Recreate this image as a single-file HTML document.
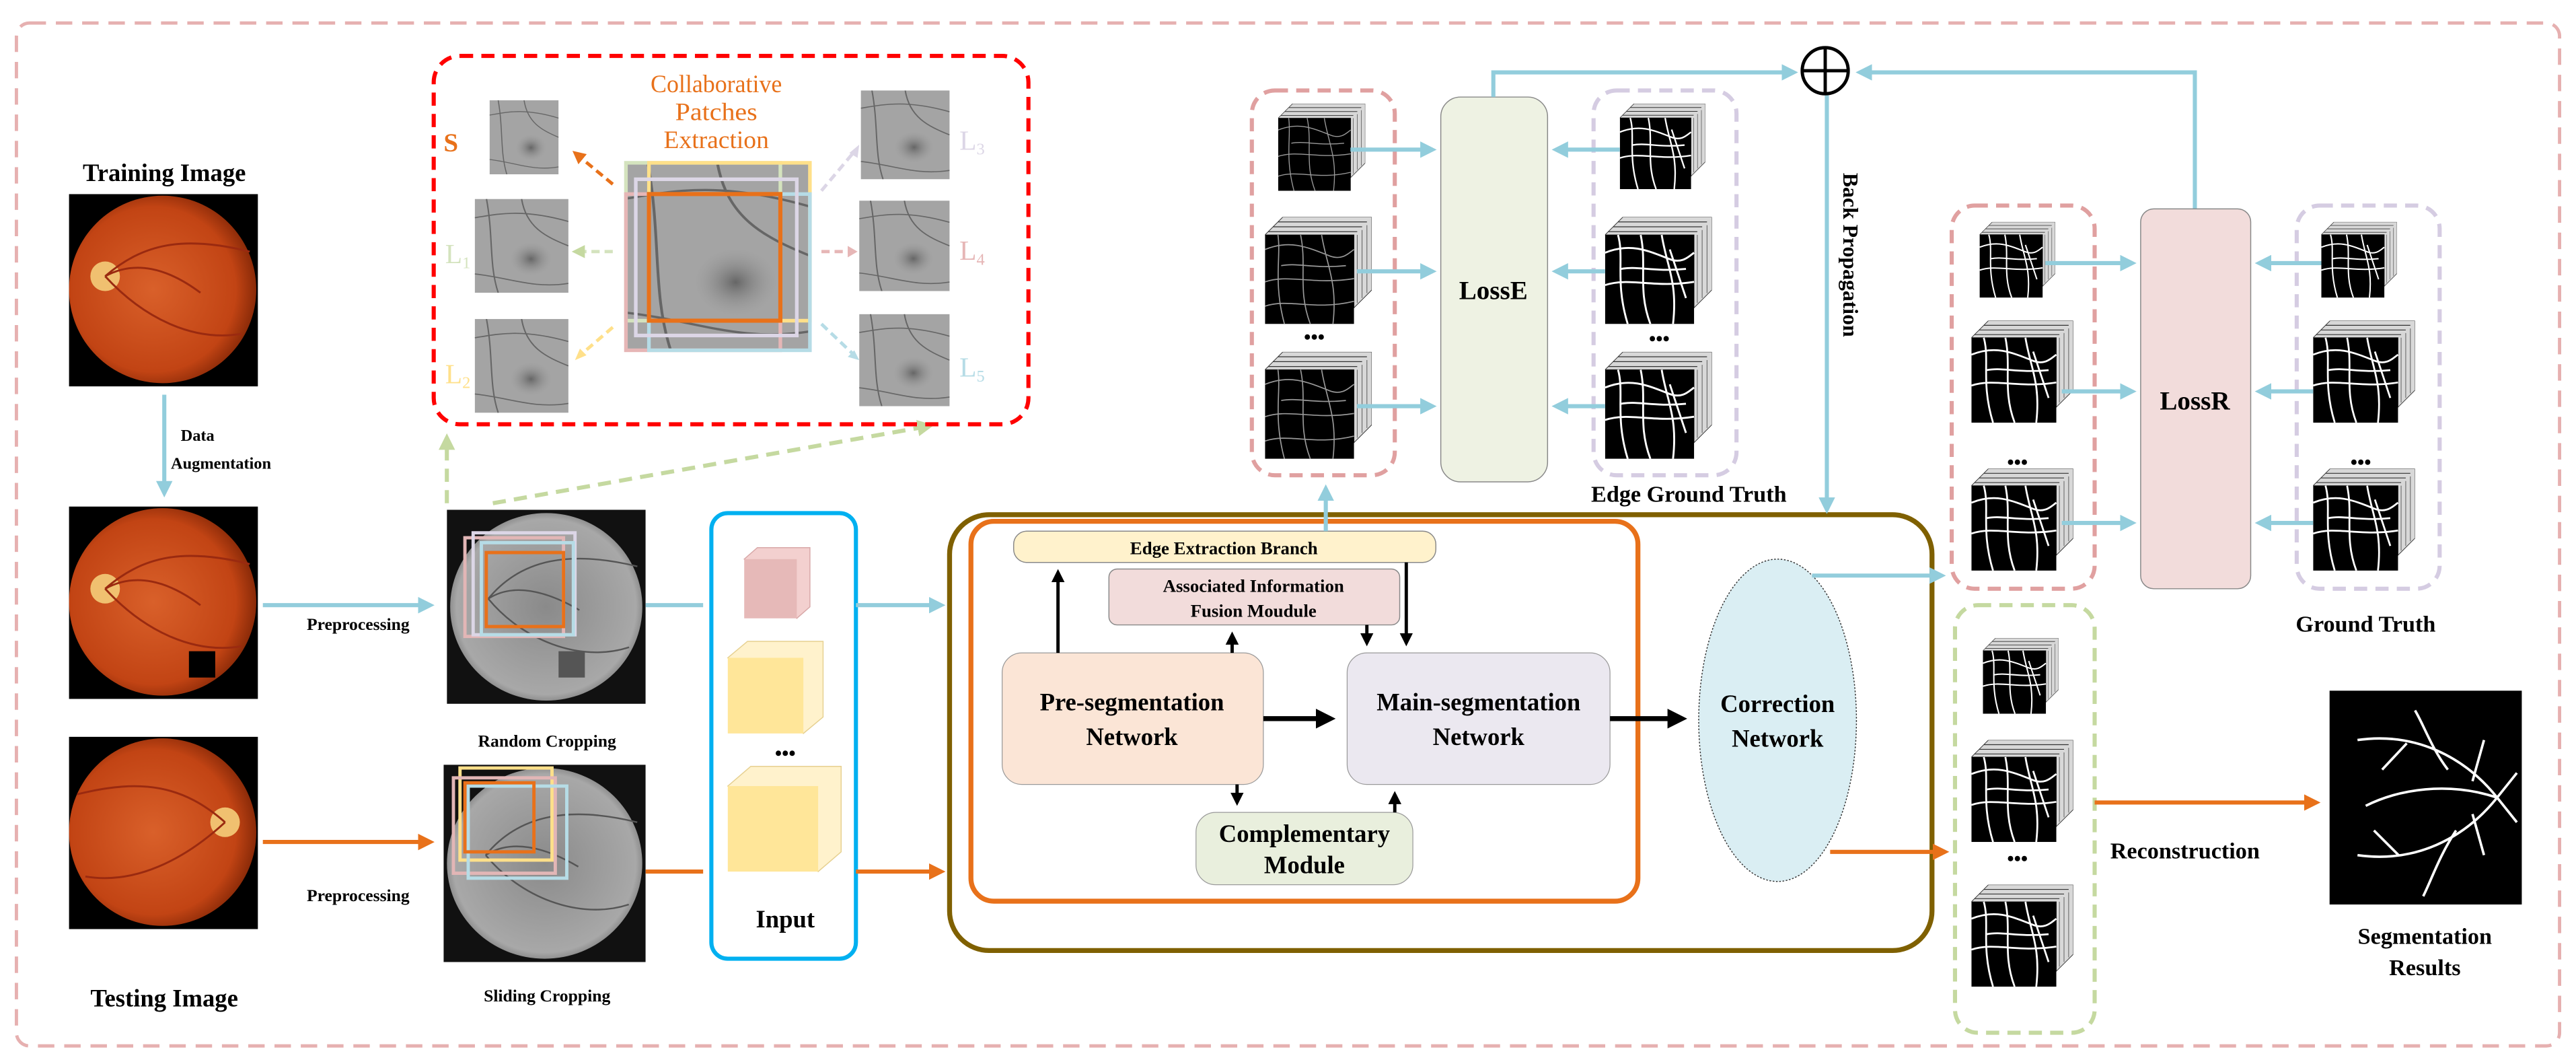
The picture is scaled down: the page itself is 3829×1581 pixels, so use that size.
<!DOCTYPE html>
<html><head><meta charset="utf-8"><style>
html,body{margin:0;padding:0;background:#fff;}
svg{display:block;}
text{font-family:"Liberation Serif",serif;font-weight:bold;}
.n{font-weight:normal;}
</style></head><body>
<svg width="3829" height="1581" viewBox="0 0 1568 647" preserveAspectRatio="none" xmlns="http://www.w3.org/2000/svg">
<defs>
<radialGradient id="fund" cx="0.45" cy="0.5" r="0.55"><stop offset="0" stop-color="#d9602a"/><stop offset="0.8" stop-color="#c24414"/><stop offset="1" stop-color="#8a2a08"/></radialGradient>
<radialGradient id="gfund" cx="0.5" cy="0.5" r="0.55"><stop offset="0" stop-color="#8a8a8a"/><stop offset="0.85" stop-color="#a8a8a8"/><stop offset="1" stop-color="#6a6a6a"/></radialGradient>
<radialGradient id="mac" cx="0.5" cy="0.5" r="0.5"><stop offset="0" stop-color="#666"/><stop offset="1" stop-color="#999" stop-opacity="0"/></radialGradient>
<marker id="ab" markerWidth="4" markerHeight="4" refX="3" refY="2" orient="auto" markerUnits="strokeWidth"><path d="M0,0 L4,2 L0,4z" fill="#92cddc"/></marker>
<marker id="ao" markerWidth="4" markerHeight="4" refX="3" refY="2" orient="auto" markerUnits="strokeWidth"><path d="M0,0 L4,2 L0,4z" fill="#e8711a"/></marker>
<marker id="ak" markerWidth="4" markerHeight="4" refX="3" refY="2" orient="auto" markerUnits="strokeWidth"><path d="M0,0 L4,2 L0,4z" fill="#000"/></marker>
<marker id="ag" markerWidth="4" markerHeight="4" refX="3" refY="2" orient="auto" markerUnits="strokeWidth"><path d="M0,0 L4,2 L0,4z" fill="#c5d9a0"/></marker>
<symbol id="fundus" viewBox="0 0 115 117" preserveAspectRatio="none">
<rect width="115" height="117" fill="#000"/>
<circle cx="57" cy="58" r="57" fill="url(#fund)"/>
<circle cx="22" cy="50" r="9" fill="#f0c070"/>
<path d="M22,50 C45,30 70,25 110,35 M22,50 C45,75 75,90 105,85 M22,50 C40,40 60,45 80,60" stroke="#9a2a10" stroke-width="1.2" fill="none"/>
</symbol>
<symbol id="fundusR" viewBox="0 0 115 117" preserveAspectRatio="none">
<rect width="115" height="117" fill="#000"/>
<circle cx="57" cy="58" r="57" fill="url(#fund)"/>
<circle cx="95" cy="52" r="9" fill="#f0c070"/>
<path d="M95,52 C70,30 45,25 5,35 M95,52 C70,75 40,90 10,85" stroke="#9a2a10" stroke-width="1.2" fill="none"/>
</symbol>
<symbol id="gray" viewBox="0 0 120 120" preserveAspectRatio="none">
<rect width="120" height="120" fill="#111"/>
<circle cx="60" cy="60" r="58" fill="url(#gfund)"/>
<path d="M25,55 C45,30 75,25 115,35 M25,55 C45,80 80,95 110,85 M25,55 C40,45 60,50 80,62" stroke="#555" stroke-width="1" fill="none"/>
</symbol>
<symbol id="patch" viewBox="0 0 40 50" preserveAspectRatio="none">
<rect width="40" height="50" fill="#a4a4a4"/>
<circle cx="24" cy="32" r="9" fill="url(#mac)"/>
<path d="M0,10 C10,8 20,5 40,12 M5,0 C8,20 6,35 10,50 M20,0 C22,15 30,20 40,25 M0,40 C15,42 25,48 40,45" stroke="#666" stroke-width="0.6" fill="none"/>
</symbol>
<symbol id="stk" viewBox="0 0 66 66" preserveAspectRatio="none">
<path d="M11,0 H66 V45 L55,56 V11 H0z" fill="#d8d8d8" stroke="#333" stroke-width="0.4"/>
<path d="M8,3 H63 M5,6 H60 M2,9 H57" stroke="#333" stroke-width="0.5"/>
<path d="M57,11 V53 M60,8 V50 M63,5 V47" stroke="#555" stroke-width="0.4"/>
<rect x="0" y="11" width="55" height="55" fill="#000"/>
<path d="M0,20 C15,14 25,18 40,24 C48,27 52,22 55,20 M8,11 C10,25 5,40 12,66 M22,11 C26,30 20,45 28,66 M0,40 C15,35 30,42 55,38 M0,55 C15,50 30,58 55,52 M35,11 C38,30 45,40 42,66 M10,30 C20,28 30,32 50,30" stroke="#999" stroke-width="0.7" fill="none"/>
</symbol>
<symbol id="stkw" viewBox="0 0 66 66" preserveAspectRatio="none">
<path d="M11,0 H66 V45 L55,56 V11 H0z" fill="#d8d8d8" stroke="#333" stroke-width="0.4"/>
<path d="M8,3 H63 M5,6 H60 M2,9 H57" stroke="#333" stroke-width="0.5"/>
<path d="M57,11 V53 M60,8 V50 M63,5 V47" stroke="#555" stroke-width="0.4"/>
<rect x="0" y="11" width="55" height="55" fill="#000"/>
<path d="M0,22 C15,16 25,20 40,26 C48,29 52,24 55,22 M8,11 C12,25 6,40 14,66 M22,11 C26,30 20,45 28,66 M0,42 C15,37 30,44 55,40 M35,11 C38,30 45,40 42,66 M10,32 C20,30 30,34 50,32 M40,20 L50,50" stroke="#fff" stroke-width="1.2" fill="none"/>
</symbol>
</defs>

<rect x="10" y="14" width="1548" height="622" rx="8" fill="none" stroke="#e6b0b0" stroke-width="2" stroke-dasharray="10,6"/>

<text x="100" y="110" font-size="15" text-anchor="middle">Training Image</text>
<use href="#fundus" x="42" y="118" width="115" height="117"/>
<line x1="100" y1="240" x2="100" y2="300" stroke="#92cddc" stroke-width="2.5" marker-end="url(#ab)"/>
<text x="110" y="268" font-size="10">Data</text>
<text x="104" y="285" font-size="10">Augmentation</text>
<use href="#fundus" x="42" y="308" width="115" height="117"/>
<rect x="115" y="396" width="16" height="16" fill="#000"/>
<use href="#fundusR" x="42" y="448" width="115" height="117"/>
<text x="100" y="612" font-size="15" text-anchor="middle">Testing Image</text>

<line x1="160" y1="368" x2="262" y2="368" stroke="#92cddc" stroke-width="2.5" marker-end="url(#ab)"/>
<text x="218" y="383" font-size="10.5" text-anchor="middle">Preprocessing</text>
<line x1="160" y1="512" x2="262" y2="512" stroke="#e8711a" stroke-width="2.5" marker-end="url(#ao)"/>
<text x="218" y="548" font-size="10.5" text-anchor="middle">Preprocessing</text>

<use href="#gray" x="272" y="310" width="121" height="118"/>
<rect x="283" y="327" width="60" height="60" fill="none" stroke="#e2b6b6" stroke-width="2"/>
<rect x="288" y="324" width="62" height="62" fill="none" stroke="#dcd6e6" stroke-width="2"/>
<rect x="293" y="330" width="56" height="56" fill="none" stroke="#b6dce6" stroke-width="2"/>
<rect x="296" y="336" width="47" height="45" fill="none" stroke="#e8711a" stroke-width="2"/>
<rect x="340" y="396" width="16" height="16" fill="#555"/>
<text x="333" y="454" font-size="10.5" text-anchor="middle">Random Cropping</text>
<use href="#gray" x="270" y="465" width="123" height="120"/>
<rect x="280" y="467" width="56" height="56" fill="none" stroke="#ffe08a" stroke-width="2"/>
<rect x="276" y="473" width="62" height="58" fill="none" stroke="#e2b6b6" stroke-width="2"/>
<rect x="285" y="478" width="60" height="56" fill="none" stroke="#b6dce6" stroke-width="2"/>
<rect x="283" y="476" width="42" height="42" fill="none" stroke="#e8711a" stroke-width="2"/>
<text x="333" y="609" font-size="10.5" text-anchor="middle">Sliding Cropping</text>

<line x1="272" y1="306" x2="272" y2="266" stroke="#c5d9a0" stroke-width="2.5" stroke-dasharray="8,5" marker-end="url(#ag)"/>
<line x1="300" y1="306" x2="566" y2="259" stroke="#c5d9a0" stroke-width="2.5" stroke-dasharray="8,5" marker-end="url(#ag)"/>

<rect x="264" y="34" width="362" height="224" rx="16" fill="none" stroke="#ff0000" stroke-width="2.5" stroke-dasharray="8,5"/>
<text x="436" y="56" font-size="15" fill="#e8711a" class="n" text-anchor="middle" textLength="80" lengthAdjust="spacingAndGlyphs">Collaborative</text>
<text x="436" y="73" font-size="15" fill="#e8711a" class="n" text-anchor="middle" textLength="50" lengthAdjust="spacingAndGlyphs">Patches</text>
<text x="436" y="90" font-size="15" fill="#e8711a" class="n" text-anchor="middle" textLength="64" lengthAdjust="spacingAndGlyphs">Extraction</text>
<text x="270" y="92" font-size="16" fill="#e8711a">S</text>
<use href="#patch" x="298" y="61" width="42" height="45"/>
<use href="#patch" x="289" y="121" width="57" height="57"/>
<use href="#patch" x="289" y="194" width="57" height="57"/>
<use href="#patch" x="524" y="55" width="54" height="54"/>
<use href="#patch" x="523" y="122" width="55" height="55"/>
<use href="#patch" x="523" y="191" width="55" height="56"/>
<text x="271" y="160" font-size="17" fill="#d4e3be" class="n">L<tspan font-size="10" dy="3">1</tspan></text>
<text x="271" y="233" font-size="17" fill="#ffe08a" class="n">L<tspan font-size="10" dy="3">2</tspan></text>
<text x="584" y="91" font-size="17" fill="#dcd6e6" class="n">L<tspan font-size="10" dy="3">3</tspan></text>
<text x="584" y="158" font-size="17" fill="#e6b6b6" class="n">L<tspan font-size="10" dy="3">4</tspan></text>
<text x="584" y="229" font-size="17" fill="#b6dce6" class="n">L<tspan font-size="10" dy="3">5</tspan></text>
<use href="#patch" x="380" y="98" width="113" height="115"/>
<rect x="381" y="99" width="94" height="96" fill="none" stroke="#d4e3be" stroke-width="2.2"/>
<rect x="395" y="99" width="98" height="96" fill="none" stroke="#ffe08a" stroke-width="2.2"/>
<rect x="381" y="118" width="94" height="95" fill="none" stroke="#e6b6b6" stroke-width="2.2"/>
<rect x="395" y="118" width="98" height="95" fill="none" stroke="#b6dce6" stroke-width="2.2"/>
<rect x="387" y="109" width="98" height="95" fill="none" stroke="#dcd6e6" stroke-width="2.2"/>
<rect x="395" y="118" width="80" height="77" fill="none" stroke="#e8711a" stroke-width="2.5"/>
<line x1="373" y1="112" x2="350" y2="93" stroke="#e8711a" stroke-width="2" stroke-dasharray="5,3" marker-end="url(#ao)"/>
<line x1="373" y1="153" x2="350" y2="153" stroke="#d4e3be" stroke-width="2" stroke-dasharray="5,3" marker-end="url(#ag)"/>
<line x1="373" y1="199" x2="352" y2="217" stroke="#ffe08a" stroke-width="2" stroke-dasharray="5,3"/>
<path d="M350,219 l3,-7 l4,4z" fill="#ffe08a"/>
<line x1="500" y1="116" x2="521" y2="91" stroke="#dcd6e6" stroke-width="2" stroke-dasharray="5,3"/>
<path d="M523,88 l-1,8 l-5,-3z" fill="#dcd6e6"/>
<line x1="500" y1="153" x2="519" y2="153" stroke="#e6b6b6" stroke-width="2" stroke-dasharray="5,3"/>
<path d="M522,153 l-6,-3.5 v7z" fill="#e6b6b6"/>
<line x1="500" y1="197" x2="520" y2="216" stroke="#b6dce6" stroke-width="2" stroke-dasharray="5,3"/>
<path d="M523,219 l-7,-2 l4,-4z" fill="#b6dce6"/>

<rect x="433" y="312" width="88" height="271" rx="10" fill="none" stroke="#00b0f0" stroke-width="2.5"/>
<path d="M453,340 l8,-7 h32 v36 l-8,7z" fill="#f3d0cf" stroke="#d8a8a8" stroke-width="0.6"/>
<rect x="453" y="340" width="32" height="36" fill="#e6b9b8"/>
<path d="M443,400 l12,-10 h46 v46 l-12,10z" fill="#fff2cc" stroke="#e6d090" stroke-width="0.6"/>
<rect x="443" y="400" width="46" height="46" fill="#ffe699"/>
<text x="478" y="462" font-size="12" text-anchor="middle">•••</text>
<path d="M443,478 l14,-12 h55 v52 l-14,12z" fill="#fff2cc" stroke="#e6d090" stroke-width="0.6"/>
<rect x="443" y="478" width="55" height="52" fill="#ffe699"/>
<text x="478" y="564" font-size="15" text-anchor="middle">Input</text>
<line x1="393" y1="368" x2="428" y2="368" stroke="#92cddc" stroke-width="2.5"/>
<line x1="521" y1="368" x2="573" y2="368" stroke="#92cddc" stroke-width="2.5" marker-end="url(#ab)"/>
<line x1="393" y1="530" x2="428" y2="530" stroke="#e8711a" stroke-width="2.5"/>
<line x1="521" y1="530" x2="573" y2="530" stroke="#e8711a" stroke-width="2.5" marker-end="url(#ao)"/>

<rect x="578" y="313" width="598" height="265" rx="24" fill="none" stroke="#7f6000" stroke-width="3"/>
<rect x="591" y="317" width="406" height="231" rx="14" fill="none" stroke="#e8711a" stroke-width="3"/>
<rect x="617" y="323" width="257" height="19" rx="8" fill="#fff2cc" stroke="#888" stroke-width="0.6"/>
<text x="745" y="337" font-size="11" text-anchor="middle">Edge Extraction Branch</text>
<rect x="675" y="346" width="177" height="34" rx="5" fill="#f2dcdb" stroke="#888" stroke-width="0.6"/>
<text x="763" y="360" font-size="11" text-anchor="middle">Associated Information</text>
<text x="763" y="375" font-size="11" text-anchor="middle">Fusion Moudule</text>
<rect x="610" y="397" width="159" height="80" rx="12" fill="#fbe5d6" stroke="#999" stroke-width="0.5"/>
<text x="689" y="432" font-size="15" text-anchor="middle">Pre-segmentation</text>
<text x="689" y="453" font-size="15" text-anchor="middle">Network</text>
<rect x="820" y="397" width="160" height="80" rx="12" fill="#ebe8f0" stroke="#999" stroke-width="0.5"/>
<text x="900" y="432" font-size="15" text-anchor="middle">Main-segmentation</text>
<text x="900" y="453" font-size="15" text-anchor="middle">Network</text>
<rect x="728" y="494" width="132" height="44" rx="12" fill="#e9efdd" stroke="#999" stroke-width="0.5"/>
<text x="794" y="512" font-size="15" text-anchor="middle">Complementary</text>
<text x="794" y="531" font-size="15" text-anchor="middle">Module</text>
<ellipse cx="1082" cy="438" rx="48" ry="98" fill="#daeef3" stroke="#333" stroke-width="0.6" stroke-dasharray="1,1"/>
<text x="1082" y="433" font-size="15" text-anchor="middle">Correction</text>
<text x="1082" y="454" font-size="15" text-anchor="middle">Network</text>
<g stroke="#000" stroke-width="2">
<line x1="644" y1="397" x2="644" y2="348" marker-end="url(#ak)"/>
<line x1="750" y1="397" x2="750" y2="386" marker-end="url(#ak)"/>
<line x1="832" y1="380" x2="832" y2="391" marker-end="url(#ak)"/>
<line x1="856" y1="342" x2="856" y2="391" marker-end="url(#ak)"/>
<line x1="753" y1="477" x2="753" y2="488" marker-end="url(#ak)"/>
<line x1="849" y1="494" x2="849" y2="483" marker-end="url(#ak)"/>
</g>
<line x1="769" y1="437" x2="810" y2="437" stroke="#000" stroke-width="3" marker-end="url(#ak)"/>
<line x1="980" y1="437" x2="1024" y2="437" stroke="#000" stroke-width="3" marker-end="url(#ak)"/>

<line x1="807" y1="323" x2="807" y2="297" stroke="#92cddc" stroke-width="2.5" marker-end="url(#ab)"/>
<rect x="762" y="55" width="87" height="234" rx="14" fill="none" stroke="#e0a0a0" stroke-width="2.5" stroke-dasharray="8,5"/>
<rect x="970" y="55" width="87" height="234" rx="14" fill="none" stroke="#d5cce2" stroke-width="2.5" stroke-dasharray="8,5"/>
<use href="#stk" x="778" y="63" width="53" height="53"/>
<use href="#stk" x="770" y="132" width="65" height="65"/>
<text x="800" y="209" font-size="12" text-anchor="middle">•••</text>
<use href="#stk" x="770" y="214" width="65" height="65"/>
<use href="#stkw" x="986" y="63" width="52" height="52"/>
<use href="#stkw" x="977" y="132" width="65" height="65"/>
<text x="1010" y="210" font-size="12" text-anchor="middle">•••</text>
<use href="#stkw" x="977" y="214" width="65" height="65"/>
<rect x="877" y="59" width="65" height="234" rx="12" fill="#eef2e3" stroke="#888" stroke-width="0.6"/>
<text x="909" y="182" font-size="16" text-anchor="middle">LossE</text>
<g stroke="#92cddc" stroke-width="2.5">
<line x1="822" y1="91" x2="872" y2="91" marker-end="url(#ab)"/>
<line x1="826" y1="165" x2="872" y2="165" marker-end="url(#ab)"/>
<line x1="826" y1="247" x2="872" y2="247" marker-end="url(#ab)"/>
<line x1="986" y1="91" x2="947" y2="91" marker-end="url(#ab)"/>
<line x1="977" y1="165" x2="947" y2="165" marker-end="url(#ab)"/>
<line x1="977" y1="247" x2="947" y2="247" marker-end="url(#ab)"/>
<polyline points="909,59 909,44 1092,44" fill="none" marker-end="url(#ab)"/>
<polyline points="1336,127 1336,44 1132,44" fill="none" marker-end="url(#ab)"/>
<line x1="1112" y1="58" x2="1112" y2="310" marker-end="url(#ab)"/>
<line x1="1103" y1="350" x2="1182" y2="350" marker-end="url(#ab)"/>
</g>
<circle cx="1111" cy="43" r="14" fill="#fff" stroke="#000" stroke-width="2"/>
<line x1="1097" y1="43" x2="1125" y2="43" stroke="#000" stroke-width="2"/>
<line x1="1111" y1="29" x2="1111" y2="57" stroke="#000" stroke-width="2"/>
<text transform="translate(1122,155) rotate(90)" font-size="13" text-anchor="middle">Back Propagation</text>
<text x="1028" y="305" font-size="14" text-anchor="middle">Edge Ground Truth</text>

<rect x="1188" y="125" width="87" height="233" rx="14" fill="none" stroke="#e0a0a0" stroke-width="2.5" stroke-dasharray="8,5"/>
<rect x="1398" y="125" width="87" height="233" rx="14" fill="none" stroke="#d5cce2" stroke-width="2.5" stroke-dasharray="8,5"/>
<use href="#stkw" x="1205" y="135" width="46" height="46"/>
<use href="#stkw" x="1200" y="195" width="62" height="62"/>
<text x="1228" y="285" font-size="12" text-anchor="middle">•••</text>
<use href="#stkw" x="1200" y="285" width="62" height="62"/>
<use href="#stkw" x="1413" y="135" width="46" height="46"/>
<use href="#stkw" x="1408" y="195" width="62" height="62"/>
<text x="1437" y="285" font-size="12" text-anchor="middle">•••</text>
<use href="#stkw" x="1408" y="285" width="62" height="62"/>
<rect x="1303" y="127" width="67" height="231" rx="8" fill="#f2dcdb" stroke="#888" stroke-width="0.6"/>
<text x="1336" y="249" font-size="16" text-anchor="middle">LossR</text>
<g stroke="#92cddc" stroke-width="2.5">
<line x1="1245" y1="160" x2="1298" y2="160" marker-end="url(#ab)"/>
<line x1="1255" y1="238" x2="1298" y2="238" marker-end="url(#ab)"/>
<line x1="1255" y1="318" x2="1298" y2="318" marker-end="url(#ab)"/>
<line x1="1413" y1="160" x2="1375" y2="160" marker-end="url(#ab)"/>
<line x1="1408" y1="238" x2="1375" y2="238" marker-end="url(#ab)"/>
<line x1="1408" y1="318" x2="1375" y2="318" marker-end="url(#ab)"/>
</g>
<text x="1440" y="384" font-size="14" text-anchor="middle">Ground Truth</text>

<rect x="1190" y="368" width="85" height="260" rx="14" fill="none" stroke="#c5d9a0" stroke-width="2.5" stroke-dasharray="8,5"/>
<use href="#stkw" x="1207" y="388" width="46" height="46"/>
<use href="#stkw" x="1200" y="450" width="62" height="62"/>
<text x="1228" y="526" font-size="12" text-anchor="middle">•••</text>
<use href="#stkw" x="1200" y="538" width="62" height="62"/>
<line x1="1114" y1="518" x2="1184" y2="518" stroke="#e8711a" stroke-width="2.5" marker-end="url(#ao)"/>
<line x1="1275" y1="488" x2="1410" y2="488" stroke="#e8711a" stroke-width="2.5" marker-end="url(#ao)"/>
<text x="1330" y="522" font-size="14" text-anchor="middle">Reconstruction</text>
<rect x="1418" y="420" width="117" height="130" fill="#000"/>
<g stroke="#fff" stroke-width="1.5" fill="none">
<path d="M1520,485 C1500,460 1470,445 1435,450 M1520,485 C1500,510 1470,525 1435,520 M1520,485 C1490,475 1460,480 1440,490 M1490,468 C1480,455 1475,440 1470,432 M1495,505 C1485,520 1480,535 1475,545 M1465,452 L1450,468 M1460,520 L1445,505 M1520,485 L1532,470 M1520,485 L1532,500 M1505,475 L1512,450 M1505,495 L1512,520"/>
</g>
<text x="1476" y="574" font-size="14" text-anchor="middle">Segmentation</text>
<text x="1476" y="593" font-size="14" text-anchor="middle">Results</text>
</svg>
</body></html>
